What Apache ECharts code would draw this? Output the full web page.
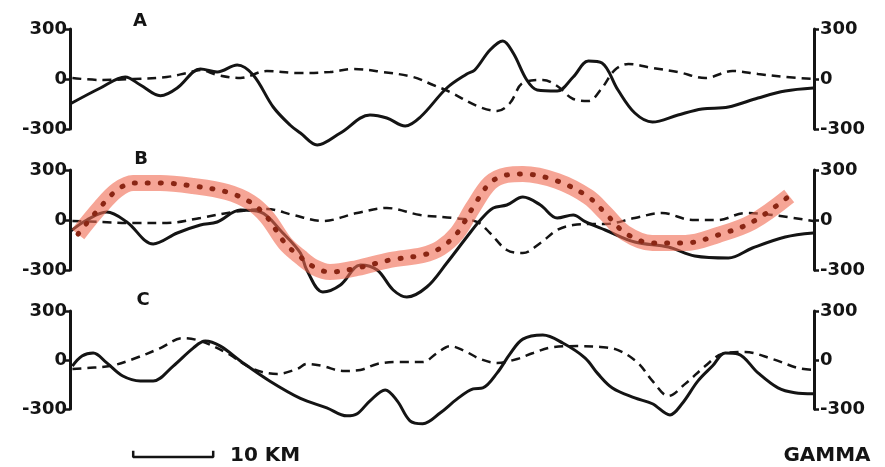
<!DOCTYPE html>
<html>
<head>
<meta charset="utf-8">
<script src="https://cdn.jsdelivr.net/npm/echarts@6/dist/echarts.min.js"></script>
<style>
  html, body { margin: 0; padding: 0; background: #fff; }
  #chart { width: 885px; height: 467px; }
</style>
</head>
<body>
<div id="chart"></div>
<script>
// distance along profile (km) and gamma value
const yTicks = [-300, 0, 300];
const panelNames = ['A', 'B', 'C'];

const aSolid = [[0,-150],[3.8,-54],[6.9,12],[8.8,-36],[11.3,-100],[13.4,-54],[15.4,42],[16.3,60],[18.4,42],[20.9,84],[22.9,24],[25.4,-168],[27.5,-276],[28.8,-324],[30.9,-396],[33.8,-324],[37.5,-216],[39.6,-234],[41.9,-282],[43.8,-228],[47.1,-54],[49.6,30],[50.6,54],[52.5,174],[54.1,228],[55.4,156],[57.1,-6],[58.4,-66],[60.9,-72],[62.9,12],[64.8,108],[66.5,96],[68.5,-66],[70.6,-204],[72.8,-258],[76,-216],[79,-180],[82.3,-168],[86,-114],[89.4,-72],[92.9,-54]];
const aDashed = [[0.3,6],[3.8,-6],[7.9,0],[12.1,12],[14.6,36],[16.3,54],[18.4,24],[21.3,6],[24.6,48],[28.4,36],[32.5,42],[35.4,60],[39.1,42],[42.9,12],[45.4,-36],[47.5,-78],[50.9,-162],[53.4,-192],[55,-144],[56.6,-24],[59.1,-6],[60.9,-42],[62.9,-120],[64.8,-132],[66.5,-54],[68.1,54],[69.8,90],[72.8,66],[76,42],[79.4,6],[82.8,48],[86,30],[89.4,12],[92.9,0]];

const bSolid = [[0,-70],[2.1,0],[4.6,48],[7.1,-12],[10.4,-144],[13.4,-78],[16.3,-30],[18.4,-12],[21.3,60],[23.8,48],[26.6,-78],[28.8,-198],[29.6,-300],[31.6,-432],[33.8,-390],[36.3,-270],[38.4,-300],[40.4,-420],[42.1,-462],[44.6,-402],[47.1,-258],[49.6,-102],[51.3,0],[52.9,72],[54.6,90],[56.6,138],[58.8,90],[60.9,12],[62.9,30],[64.4,-10],[66.9,-60],[70.6,-132],[74.8,-162],[78.1,-216],[82.3,-228],[85.3,-168],[89.4,-102],[92.9,-78]];
const bDashed = [[0.3,-6],[3.8,-12],[7.9,-18],[12.1,-18],[16.3,12],[20.4,48],[24.6,66],[27.9,30],[31.6,-6],[35.9,42],[39.6,72],[43.8,30],[47.9,12],[50.9,-12],[52.5,-78],[54.6,-180],[56.6,-198],[58.8,-138],[60.9,-60],[62.9,-30],[65,-24],[66.9,-24],[70.6,12],[74,42],[77.8,0],[81,0],[84.4,42],[87.8,30],[92.9,-6]];
const bTrend = [[1,-85],[3.8,78],[5.9,180],[7.9,222],[11.3,222],[15.4,204],[19.6,168],[22.5,108],[24.6,18],[26.9,-140],[28.8,-222],[30.6,-285],[32.5,-312],[35.9,-288],[40,-240],[44.1,-210],[46.3,-168],[48.4,-78],[50.4,78],[52.5,222],[54.6,270],[56.6,276],[60.9,234],[64.8,138],[66.9,42],[69.4,-78],[72.8,-138],[76.9,-138],[81,-90],[85.3,-12],[89.9,144]];

const cSolid = [[0.3,-37],[1.5,24],[2.9,43],[4.6,-18],[6.6,-98],[8.8,-128],[10.4,-128],[12.9,-37],[15.4,73],[16.9,116],[18.8,85],[21.3,-6],[25,-130],[28.8,-235],[32.1,-293],[34.6,-342],[35.9,-329],[37.5,-250],[39.4,-183],[40.9,-250],[42.5,-372],[44.1,-390],[46.3,-323],[48.4,-238],[50.4,-177],[51.6,-171],[53.4,-79],[55,37],[56.6,128],[59.1,153],[61.6,104],[64.4,12],[66,-85],[67.8,-171],[70.6,-232],[72.8,-268],[75,-336],[76.5,-268],[78.5,-128],[80.3,-37],[81.9,43],[83.5,37],[86,-79],[88.5,-171],[90.6,-201],[92.9,-207]];
const cDashed = [[0.3,-55],[2.1,-49],[5,-37],[7.9,6],[11.3,73],[14.1,134],[16.3,116],[19.6,43],[22.9,-55],[25.9,-85],[28.4,-55],[29.6,-24],[31.6,-37],[34.1,-67],[36.3,-61],[38.4,-24],[40.9,-12],[44.1,-12],[45.9,43],[47.5,85],[49.1,61],[51.3,6],[53.4,-18],[55.9,6],[57.9,43],[60.4,79],[63.4,85],[66.3,80],[68.5,61],[71,-18],[72.8,-128],[74.8,-220],[76.9,-146],[79.4,-37],[81.5,37],[84.4,49],[87.8,6],[91,-49],[92.9,-61]];

// 10 km scale bar, drawn in panel C's km scale
const scaleBar = [[7.9,-555],[7.9,-594],[17.9,-594],[17.9,-555]];

const INK = '#141414';
const labelFont = { fontFamily: 'DejaVu Sans', fontWeight: 'bold', fontSize: 18, color: INK };

var chart = echarts.init(document.getElementById('chart'), null, { renderer: 'canvas' });

var grids = [
  { left: 70, right: 71, top: 29, height: 100 },
  { left: 70, right: 71, top: 170, height: 100 },
  { left: 70, right: 71, top: 311, height: 98 }
];

function yAxisFor(i, pos) {
  return {
    type: 'value', gridIndex: i, position: pos,
    min: yTicks[0], max: yTicks[2], interval: 300,
    splitLine: { show: false },
    axisLine: { show: true, onZero: false, lineStyle: { color: INK, width: 3 } },
    axisTick: { show: true, length: 5, lineStyle: { color: INK, width: 2.5 } },
    axisLabel: Object.assign({ margin: pos === 'left' ? 3 : 6 }, labelFont)
  };
}

var xAxes = [], yAxes = [];
for (var i = 0; i < 3; i++) {
  xAxes.push({ type: 'value', gridIndex: i, min: 0, max: 93, show: false });
  yAxes.push(yAxisFor(i, 'left'));
  yAxes.push(yAxisFor(i, 'right'));
}

function line(i, data, style) {
  return {
    type: 'line', xAxisIndex: i, yAxisIndex: i * 2, data: data,
    showSymbol: false, symbol: 'none', smooth: 0.35, clip: false, silent: true,
    lineStyle: style
  };
}

var solid = { color: INK, width: 3 };
var dashed = { color: INK, width: 2.5, type: [9, 6] };

var series = [
  line(0, aSolid, solid),
  line(0, aDashed, dashed),
  line(1, bSolid, solid),
  line(1, bDashed, dashed),
  line(1, bTrend, { color: 'rgba(240,105,80,0.6)', width: 16, cap: 'butt' }),
  line(1, bTrend, { color: '#8a2614', width: 5, type: [1, 12], cap: 'round' }),
  line(2, cSolid, solid),
  line(2, cDashed, dashed),
  Object.assign(line(2, scaleBar, { color: INK, width: 2.5 }), { smooth: false })
];

var textItems = [
  { t: panelNames[0], x: 140, y: 21, size: 18 },
  { t: panelNames[1], x: 141, y: 159, size: 18 },
  { t: panelNames[2], x: 143, y: 300, size: 18 },
  { t: '10 KM', x: 230, y: 456, size: 20, align: 'left' },
  { t: 'GAMMA', x: 827, y: 456, size: 20 }
];

var option = {
  animation: false,
  backgroundColor: '#fff',
  grid: grids,
  xAxis: xAxes,
  yAxis: yAxes,
  series: series,
  graphic: textItems.map(function (d) {
    return {
      type: 'text', x: d.x, y: d.y, silent: true,
      style: {
        text: d.t, fill: INK,
        font: 'bold ' + d.size + 'px "DejaVu Sans"',
        align: d.align || 'center', verticalAlign: 'middle'
      }
    };
  })
};

chart.setOption(option);
</script>
</body>
</html>
